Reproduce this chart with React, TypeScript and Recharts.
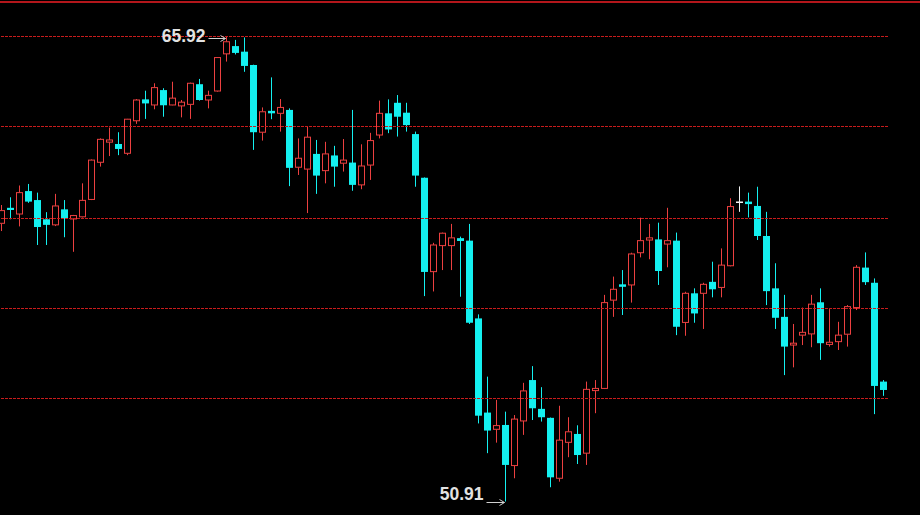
import { ComposedChart, Bar, XAxis, YAxis, ReferenceLine, ReferenceDot } from 'recharts'

const OPEN = [
  59.89, 60.39, 60.19, 60.93, 60.64, 60.02, 59.84, 60.34, 60.03, 60.1,
  60.66, 61.86, 62.51, 62.45, 62.15, 63.2, 63.89, 63.71, 64.19, 63.71,
  63.68, 63.73, 64.38, 63.87, 64.16, 65.36, 65.61, 65.43, 65.0, 62.83,
  63.52, 63.44, 63.55, 61.7, 61.64, 62.13, 61.59, 62.08, 61.83, 61.85,
  61.13, 61.77, 62.74, 63.44, 63.78, 63.46, 62.77, 61.36, 58.33, 59.17,
  59.17, 59.41, 59.33, 56.82, 53.78, 53.24, 53.38, 52.07, 53.51, 54.83,
  53.9, 53.61, 51.66, 52.82, 53.09, 52.47, 54.49, 54.56, 57.41, 57.92,
  57.9, 58.94, 59.35, 59.37, 59.22, 59.33, 56.69, 57.63, 57.63, 58.0,
  57.82, 58.52, 60.57, 60.59, 60.45, 59.48, 57.79, 56.87, 55.96, 56.28,
  56.32, 57.34, 55.98, 56.07, 56.31, 57.17, 58.46, 57.97, 54.78,
]
const HIGH = [
  60.48, 60.73, 61.11, 61.16, 60.88, 60.25, 60.84, 60.64, 60.16, 61.18,
  61.95, 62.63, 62.98, 62.83, 63.26, 63.9, 64.17, 64.41, 64.25, 64.46,
  63.87, 64.43, 64.55, 64.17, 65.25, 65.92, 65.81, 65.89, 65.01, 63.63,
  64.6, 63.9, 63.6, 62.63, 63.01, 62.58, 62.52, 62.39, 62.61, 63.55,
  62.44, 62.81, 63.85, 63.89, 64.03, 63.78, 62.85, 61.37, 59.26, 59.59,
  59.87, 59.46, 59.87, 56.95, 54.94, 54.19, 53.81, 53.7, 54.74, 55.28,
  54.6, 53.62, 54.0, 53.63, 53.37, 54.78, 54.83, 57.58, 58.17, 58.38,
  58.94, 60.07, 59.87, 59.91, 60.39, 59.59, 57.68, 57.79, 57.97, 58.65,
  59.08, 60.7, 61.08, 60.88, 61.07, 60.26, 58.6, 57.58, 56.64, 57.17,
  57.58, 57.79, 57.12, 56.71, 57.25, 58.54, 58.95, 58.11, 54.83,
]
const LOW = [
  59.64, 60.02, 59.79, 60.55, 59.19, 59.19, 59.8, 59.44, 58.97, 60.08,
  60.64, 61.72, 62.06, 62.09, 62.09, 63.1, 63.26, 63.57, 63.33, 63.7,
  63.31, 63.26, 63.85, 63.6, 64.14, 65.11, 65.34, 64.78, 62.26, 62.56,
  63.25, 62.85, 61.09, 61.45, 60.22, 60.84, 61.18, 61.07, 61.56, 60.94,
  60.99, 61.29, 62.63, 62.8, 62.69, 62.85, 61.07, 57.54, 57.69, 58.38,
  58.38, 57.52, 56.64, 53.43, 52.47, 52.81, 50.91, 51.66, 53.06, 53.54,
  53.49, 51.37, 51.55, 52.34, 52.12, 52.09, 53.76, 54.54, 56.87, 56.93,
  57.33, 58.79, 58.73, 57.9, 58.47, 56.28, 56.26, 56.68, 56.48, 57.5,
  57.5, 58.5, 60.26, 60.08, 59.35, 57.25, 56.48, 54.99, 55.24, 55.96,
  55.89, 55.48, 55.91, 55.8, 55.91, 57.09, 57.9, 53.73, 54.32,
]
const CLOSE = [
  60.3, 60.32, 60.88, 60.59, 59.77, 59.84, 60.45, 60.03, 60.14, 60.63,
  61.93, 62.6, 62.58, 62.29, 63.25, 63.87, 63.76, 64.27, 63.7, 63.93,
  63.8, 64.41, 63.87, 64.02, 65.24, 65.75, 65.39, 64.97, 62.83, 63.49,
  63.44, 63.63, 61.68, 61.99, 62.67, 61.43, 62.13, 61.72, 61.93, 61.13,
  61.74, 62.56, 63.44, 62.92, 63.33, 63.06, 61.43, 58.32, 59.19, 59.57,
  59.42, 59.32, 56.68, 53.68, 53.2, 53.36, 52.09, 53.57, 54.48, 53.92,
  53.63, 51.69, 52.89, 53.16, 52.41, 54.53, 54.56, 57.33, 57.76, 57.84,
  58.9, 59.33, 59.42, 58.35, 59.33, 56.55, 57.63, 56.98, 57.92, 57.76,
  58.54, 60.43, 60.57, 60.51, 59.48, 57.7, 56.84, 55.91, 56.02, 56.37,
  57.28, 56.02, 56.05, 56.28, 57.2, 58.47, 57.99, 54.64, 54.51,
]

// horizontal guide levels
const GRID = [65.95, 63.03, 60.09, 57.16, 54.22]

// marked extremes
const MAX_MARK = { idx: 25, value: 65.92 }
const MIN_MARK = { idx: 56, value: 50.91 }

const UP = '#ec4040'
const DOWN = '#14f0f0'
const FLAT = '#f0f0f0'
const LABEL = '#e2e2e2'
const FONT = '"Liberation Sans", Arial, sans-serif'

const data = OPEN.map((open, i) => ({
  idx: i,
  open,
  high: HIGH[i],
  low: LOW[i],
  close: CLOSE[i],
}))

function Candle(props: any) {
  const { x, y, width, height, payload } = props
  if (!payload) return null
  const { open, close, high, low } = payload
  const top = Math.min(y, y + height)
  const k = Math.abs(height) / (high - low || 1)
  const py = (v: number) => top + (high - v) * k
  const cx = x + width / 2
  const bodyTop = py(Math.max(open, close))
  const bodyBot = py(Math.min(open, close))
  const bodyH = Math.max(bodyBot - bodyTop, 1)

  if (close > open) {
    return (
      <g>
        <line x1={cx} x2={cx} y1={py(high)} y2={bodyTop} stroke={UP} />
        <line x1={cx} x2={cx} y1={bodyTop + bodyH} y2={py(low)} stroke={UP} />
        <rect x={x + 0.5} y={bodyTop} width={width - 1} height={bodyH} fill="#000" stroke={UP} />
      </g>
    )
  }
  if (close < open) {
    return (
      <g>
        <line x1={cx} x2={cx} y1={py(high)} y2={py(low)} stroke={DOWN} />
        <rect x={x} y={bodyTop} width={width} height={bodyH} fill={DOWN} />
      </g>
    )
  }
  return (
    <g>
      <line x1={cx} x2={cx} y1={py(high)} y2={py(low)} stroke={FLAT} />
      <line x1={x} x2={x + width} y1={bodyTop} y2={bodyTop} stroke={FLAT} strokeWidth={1.5} />
    </g>
  )
}

// grid line snapped to a pixel row
function GridLine(props: any) {
  const { x1, x2, y1 } = props
  const yy = 2 * Math.round(y1 / 2) + 0.5
  return <line x1={x1} x2={x2} y1={yy} y2={yy} stroke="#c81c1c" strokeDasharray="3 1" />
}

function Mark({ cx, cy, text, dy, arrowDy, gap }: any) {
  const ay = Math.round(cy + arrowDy) + 0.5
  const tip = cx - 1
  return (
    <g>
      <text
        x={cx - gap}
        y={cy + dy}
        textAnchor="end"
        fill={LABEL}
        fontFamily={FONT}
        fontWeight="bold"
        fontSize={17.5}
      >
        {text}
      </text>
      <line x1={cx - gap + 3} x2={tip} y1={ay} y2={ay} stroke="#d0d0d0" />
      <path d={`M${tip - 5},${ay - 3} L${tip},${ay} L${tip - 5},${ay + 3}`} fill="none" stroke="#d0d0d0" />
    </g>
  )
}

export default function App() {
  return (
    <div
      style={{
        position: 'fixed',
        left: 0,
        top: 0,
        width: 920,
        height: 515,
        background: '#000',
        overflow: 'hidden',
      }}
    >
      <div style={{ position: 'absolute', left: 0, top: 1, width: 920, height: 2, background: '#b3161b' }} />
      <div style={{ position: 'absolute', left: -3, top: 0 }}>
        <ComposedChart
          width={923}
          height={515}
          data={data}
          margin={{ top: 0, right: 32, bottom: 0, left: 0 }}
        >
          <XAxis dataKey="idx" type="category" hide />
          <YAxis type="number" domain={[50.474, 67.098]} hide allowDataOverflow />
          {GRID.map((g) => (
            <ReferenceLine key={g} y={g} shape={(p: any) => <GridLine {...p} />} />
          ))}
          <Bar
            dataKey={(d: any) => [d.low, d.high]}
            barSize={7}
            shape={(p: any) => <Candle {...p} />}
            isAnimationActive={false}
          />
          <ReferenceDot
            x={MAX_MARK.idx}
            y={MAX_MARK.value}
            r={0}
            shape={(p: any) => (
              <Mark cx={p.cx} cy={p.cy} text={MAX_MARK.value.toFixed(2)} dy={5.5} arrowDy={2} gap={21} />
            )}
          />
          <ReferenceDot
            x={MIN_MARK.idx}
            y={MIN_MARK.value}
            r={0}
            shape={(p: any) => (
              <Mark cx={p.cx} cy={p.cy} text={MIN_MARK.value.toFixed(2)} dy={-1} arrowDy={1} gap={22} />
            )}
          />
        </ComposedChart>
      </div>
    </div>
  )
}
